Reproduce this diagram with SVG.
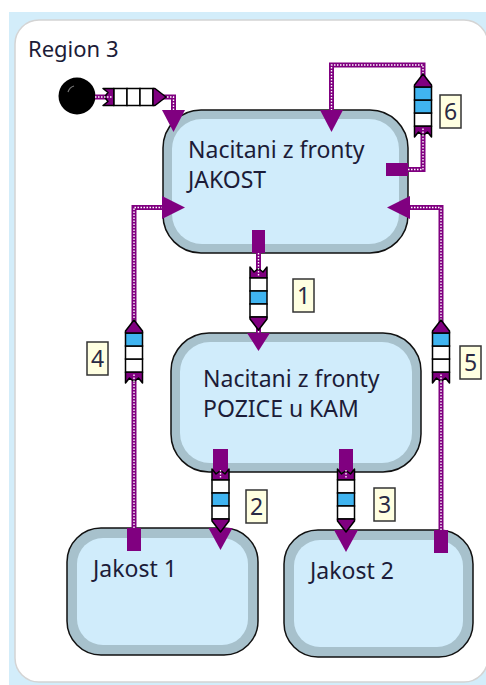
<svg xmlns="http://www.w3.org/2000/svg" xmlns:xlink="http://www.w3.org/1999/xlink" width="486" height="685" viewBox="0 0 486 685">
  <style>
    text { font-family: "Noto Sans", "Open Sans", sans-serif; fill: #1c1c38; }
    .title { font-size: 22px; }
    .lbl { font-size: 23px; }
    .num { font-size: 23px; text-anchor: middle; fill: #2a2a44; }
    .outer { fill: #a7c1cc; stroke: #111; stroke-width: 1.5; }
    .inner { fill: #d0ecfb; }
    .port { fill: #800080; }
    .wire { fill: none; stroke: #800080; stroke-width: 5; }
    .dots { fill: none; stroke: #fff; stroke-width: 1.4; stroke-dasharray: 1.5 1.5; }
    .tri { fill: #800080; }
    .qpart { fill: #800080; stroke: #000; stroke-width: 1.5; stroke-linejoin: round; }
    .cw { fill: #fff; stroke: #000; stroke-width: 1.5; }
    .cb { fill: #40b4f0; stroke: #000; stroke-width: 1.5; }
    .tag { fill: #ffffe1; stroke: #333; stroke-width: 1.5; }
  </style>
  <defs>
    <!-- queue tail (notched end where the wire enters) -->
    <g id="qtail">
      <polygon class="qpart" points="-8.5,0 -4.5,5 0,1.5 4.5,5 8.5,0 8.5,11 -8.5,11"/>
      <line class="dots" x1="0" y1="1" x2="0" y2="10"/>
    </g>
    <!-- queue head (arrow end) -->
    <polygon id="qhead" class="qpart" points="-8.5,50 8.5,50 8.5,52 0,63 -8.5,52"/>
  </defs>

  <!-- region frame -->
  <rect x="9" y="12" width="490" height="690" fill="#d3edfa"/>
  <rect x="15" y="20" width="473" height="662" rx="24" fill="#fff" stroke="#d4d4d4" stroke-width="1.5"/>
  <text class="title" x="28" y="57">Region 3</text>

  <!-- nodes -->
  <g id="initial">
    <circle cx="77" cy="96" r="18.5" fill="#000"/>
    <path d="M68,92 A9,9 0 0 1 74,86" fill="none" stroke="#777" stroke-width="1.2"/>
  </g>

  <g id="nacitani-jakost">
    <rect class="outer" x="163" y="110" width="245" height="143" rx="38"/>
    <rect class="inner" x="172" y="119" width="227" height="125" rx="30"/>
    <text class="lbl" x="188" y="158">Nacitani z fronty</text>
    <text class="lbl" x="188" y="188">JAKOST</text>
    <rect class="port" x="252" y="230" width="13" height="23"/>
    <rect class="port" x="386" y="163" width="22" height="13"/>
  </g>

  <g id="nacitani-pozice">
    <rect class="outer" x="171" y="333" width="250" height="139" rx="38"/>
    <rect class="inner" x="180" y="342" width="232" height="121" rx="30"/>
    <text class="lbl" x="203" y="387">Nacitani z fronty</text>
    <text class="lbl" x="203" y="417">POZICE u KAM</text>
    <rect class="port" x="213" y="449" width="15" height="23"/>
    <rect class="port" x="339" y="449" width="14" height="23"/>
  </g>

  <g id="jakost-1">
    <rect class="outer" x="67" y="528" width="191" height="127" rx="34"/>
    <rect class="inner" x="77" y="538" width="171" height="107" rx="26"/>
    <text class="lbl" x="93" y="577">Jakost 1</text>
    <rect class="port" x="127" y="528" width="14" height="23"/>
  </g>

  <g id="jakost-2">
    <rect class="outer" x="284" y="530" width="189" height="127" rx="34"/>
    <rect class="inner" x="294" y="540" width="169" height="107" rx="26"/>
    <text class="lbl" x="310" y="579">Jakost 2</text>
    <rect class="port" x="434" y="530" width="14" height="23"/>
  </g>

  <!-- connectors -->
  <g id="connectors">
    <g id="wires">
      <path class="wire" d="M95,97 H173.5 V112"/>
      <path class="dots" d="M95,97 H173.5 V112"/>
      <path class="wire" d="M258.5,253 V335"/>
      <path class="dots" d="M258.5,253 V335"/>
      <path class="wire" d="M220.5,472 V530"/>
      <path class="dots" d="M220.5,472 V530"/>
      <path class="wire" d="M346,472 V532"/>
      <path class="dots" d="M346,472 V532"/>
      <path class="wire" d="M134,528 V207.5 H164"/>
      <path class="dots" d="M134,528 V207.5 H164"/>
      <path class="wire" d="M441,530 V207.5 H408"/>
      <path class="dots" d="M441,530 V207.5 H408"/>
      <path class="wire" d="M408,169.5 H423 V65 H331.5 V112"/>
      <path class="dots" d="M408,169.5 H423 V65 H331.5 V112"/>
    </g>
    <g id="arrowheads">
      <polygon class="tri" points="162,110 185,110 173.5,132"/>
      <polygon class="tri" points="247,333 270,333 258.5,351"/>
      <polygon class="tri" points="208.5,528 232.5,528 220.5,550"/>
      <polygon class="tri" points="334,530 358,530 346,552"/>
      <polygon class="tri" points="162,196 162,219 185,207.5"/>
      <polygon class="tri" points="410,196 410,219 387,207.5"/>
      <polygon class="tri" points="320,110 343,110 331.5,132"/>
    </g>
    <g id="queues">
      <g transform="translate(103,97) rotate(-90)">
        <use xlink:href="#qtail"/>
        <rect class="cw" x="-8.5" y="11" width="17" height="13"/>
        <rect class="cw" x="-8.5" y="24" width="17" height="13"/>
        <rect class="cw" x="-8.5" y="37" width="17" height="13"/>
        <use xlink:href="#qhead"/>
      </g>
      <g transform="translate(258.5,267)">
        <use xlink:href="#qtail"/>
        <rect class="cw" x="-8.5" y="11" width="17" height="13"/>
        <rect class="cb" x="-8.5" y="24" width="17" height="13"/>
        <rect class="cw" x="-8.5" y="37" width="17" height="13"/>
        <use xlink:href="#qhead"/>
      </g>
      <g transform="translate(220.5,469)">
        <use xlink:href="#qtail"/>
        <rect class="cw" x="-8.5" y="11" width="17" height="13"/>
        <rect class="cb" x="-8.5" y="24" width="17" height="13"/>
        <rect class="cw" x="-8.5" y="37" width="17" height="13"/>
        <use xlink:href="#qhead"/>
      </g>
      <g transform="translate(346,469)">
        <use xlink:href="#qtail"/>
        <rect class="cw" x="-8.5" y="11" width="17" height="13"/>
        <rect class="cb" x="-8.5" y="24" width="17" height="13"/>
        <rect class="cw" x="-8.5" y="37" width="17" height="13"/>
        <use xlink:href="#qhead"/>
      </g>
      <g transform="translate(134,383) rotate(180)">
        <use xlink:href="#qtail"/>
        <rect class="cw" x="-8.5" y="11" width="17" height="13"/>
        <rect class="cw" x="-8.5" y="24" width="17" height="13"/>
        <rect class="cb" x="-8.5" y="37" width="17" height="13"/>
        <use xlink:href="#qhead"/>
      </g>
      <g transform="translate(441,383) rotate(180)">
        <use xlink:href="#qtail"/>
        <rect class="cw" x="-8.5" y="11" width="17" height="13"/>
        <rect class="cw" x="-8.5" y="24" width="17" height="13"/>
        <rect class="cb" x="-8.5" y="37" width="17" height="13"/>
        <use xlink:href="#qhead"/>
      </g>
      <g transform="translate(423,137) rotate(180)">
        <use xlink:href="#qtail"/>
        <rect class="cw" x="-8.5" y="11" width="17" height="13"/>
        <rect class="cb" x="-8.5" y="24" width="17" height="13"/>
        <rect class="cb" x="-8.5" y="37" width="17" height="13"/>
        <use xlink:href="#qhead"/>
      </g>
    </g>
    <g id="queue-tags">
      <rect class="tag" x="293" y="279" width="21" height="33"/>
      <text class="num" x="303.5" y="304">1</text>
      <rect class="tag" x="246" y="490" width="21" height="33"/>
      <text class="num" x="256.5" y="515">2</text>
      <rect class="tag" x="374" y="488" width="21" height="33"/>
      <text class="num" x="384.5" y="513">3</text>
      <rect class="tag" x="87" y="342" width="21" height="33"/>
      <text class="num" x="97.5" y="367">4</text>
      <rect class="tag" x="460" y="346" width="21" height="33"/>
      <text class="num" x="470.5" y="371">5</text>
      <rect class="tag" x="440" y="95" width="21" height="33"/>
      <text class="num" x="450.5" y="120">6</text>
    </g>
  </g>
</svg>
